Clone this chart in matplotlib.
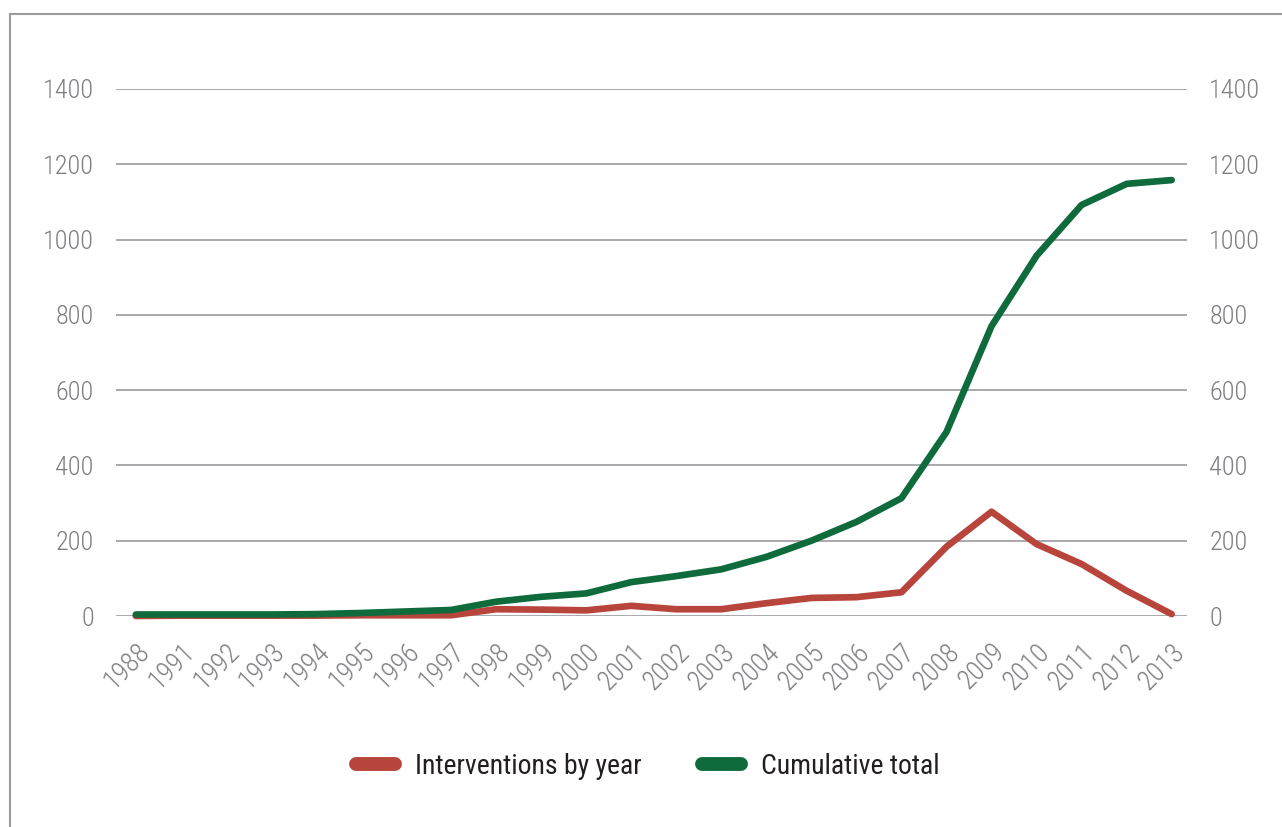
import matplotlib
matplotlib.use('Agg')
import matplotlib.pyplot as plt
from matplotlib.lines import Line2D

# condensed face like the original; first installed one wins
plt.rcParams['font.family'] = ['Roboto Condensed', 'Archivo Narrow', 'PT Sans Narrow',
                               'Open Sans Condensed', 'Liberation Sans', 'DejaVu Sans']
plt.rcParams['font.weight'] = 'light'

years = ['1988', '1991', '1992', '1993', '1994', '1995', '1996', '1997', '1998', '1999',
         '2000', '2001', '2002', '2003', '2004', '2005', '2006', '2007', '2008', '2009',
         '2010', '2011', '2012', '2013']
by_year = [0, 1, 1, 1, 1, 2, 2, 2, 18, 17, 15, 27, 18, 18, 34, 48, 50, 63,
           184, 277, 191, 138, 67, 5]
cumulative = [4, 4, 4, 4, 5, 8, 12, 16, 38, 51, 60, 90, 106, 124, 157, 200, 250, 313,
              489, 770, 957, 1092, 1148, 1158]

red = '#b8453c'
green = '#0f6b3b'
grey_txt = '#7f7f83'
grid_col = '#a9a9ad'

fig = plt.figure(figsize=(12.82, 8.27), dpi=100)
ax = fig.add_axes([116 / 1282, 1 - 616 / 827, (1187 - 116) / 1282, (616 - 89) / 827])

x = list(range(len(years)))
ax.plot(x, by_year, color=red, lw=4.8, solid_capstyle='round', solid_joinstyle='round',
        clip_on=False, zorder=3, label='Interventions by year')
ax.plot(x, cumulative, color=green, lw=4.8, solid_capstyle='round', solid_joinstyle='round',
        clip_on=False, zorder=4, label='Cumulative total')

ax.set_xlim(-0.44, 23.34)
ax.set_ylim(0, 1400)
yt = list(range(0, 1401, 200))
ax.set_yticks(yt)
for v in yt:
    ax.axhline(v, color=grid_col, lw=1.4, zorder=1)
for s in ax.spines.values():
    s.set_visible(False)

ax.set_xticks(x)
ax.set_xticklabels(years, rotation=45, ha='right', va='top', rotation_mode='anchor')
ax.tick_params(axis='x', length=0, pad=16, labelsize=19.5, labelcolor=grey_txt)
ax.tick_params(axis='y', length=0, pad=16, labelsize=19, labelcolor=grey_txt)

ax2 = ax.twinx()
ax2.set_ylim(0, 1400)
ax2.set_yticks(yt)
ax2.tick_params(axis='y', length=0, pad=16, labelsize=19, labelcolor=grey_txt)
for s in ax2.spines.values():
    s.set_visible(False)

# outer frame (top and left edges)
fig.add_artist(Line2D([10 / 1282, 10 / 1282], [0, 1 - 14 / 827], color='#9c9c9c', lw=1.5))
fig.add_artist(Line2D([10 / 1282, 1], [1 - 14 / 827, 1 - 14 / 827], color='#9c9c9c', lw=1.5))

handles = [Line2D([], [], color=red, lw=10, solid_capstyle='round'),
           Line2D([], [], color=green, lw=10, solid_capstyle='round')]
fig.legend(handles, ['Interventions by year', 'Cumulative total'], loc='center',
           bbox_to_anchor=(648 / 1282, 1 - 766 / 827), ncol=2, frameon=False,
           prop={'size': 20, 'weight': 'normal'}, labelcolor='#231f20',
           handlelength=1.4, handletextpad=0.72, columnspacing=2.16)

fig.savefig('out.png', dpi=100)
